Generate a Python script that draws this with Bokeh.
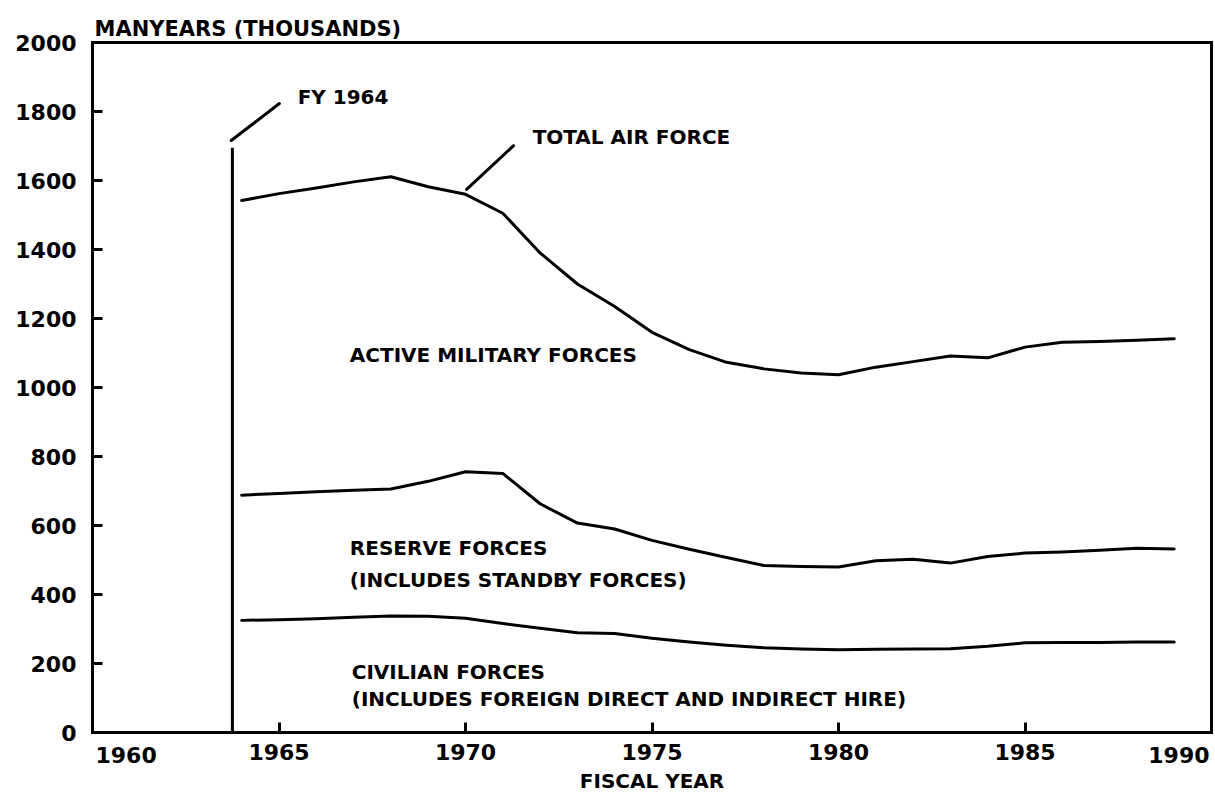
from bokeh.plotting import figure
from bokeh.models import Label, FixedTicker, Range1d, LinearAxis
from bokeh.embed import file_html
from bokeh.resources import INLINE

# ---------------- data (thousands of manyears) ----------------
years = list(range(1964, 1990))
# bottom curve: civilian forces
civilian_top = [325, 327, 330, 334, 338, 337, 331, 316, 302, 289, 287, 273, 262,
                253, 246, 242, 240, 241, 242, 243, 250, 260, 261, 261, 262, 262]
# middle curve: civilian + reserve forces
reserve_top = [688, 693, 698, 702, 706, 728, 756, 751, 663, 607, 590, 557, 531,
               507, 484, 481, 480, 498, 502, 491, 510, 520, 523, 528, 534, 532]
# top curve: total Air Force
total_top = [1542, 1562, 1578, 1596, 1611, 1582, 1560, 1505, 1390, 1300, 1235, 1160, 1110,
             1073, 1054, 1042, 1037, 1059, 1075, 1091, 1086, 1117, 1131, 1133, 1137, 1141]

fy_marker_year = [1963.75]
fy_marker_top = [1695]

x_ticks = [1960, 1965, 1970, 1975, 1980, 1985, 1990]
x_tick_labels = ["1960", "1965", "1970", "1975", "1980", "1985", "1990"]
y_ticks = [0, 200, 400, 600, 800, 1000, 1200, 1400, 1600, 1800, 2000]
y_max = 2000

FONT = "DejaVu Sans"
TICK_FS = "22px"
NOTE_FS = "20px"

# layout geometry (pixels): frame box 42..732 tall for 0..2000; the frame is extended
# below the zero line so that the year labels at the two ends can sit under the axis
H, TOP, ZERO_PX, BOTTOM_BORDER = 796, 42, 732, 6
frame_bottom = H - BOTTOM_BORDER
y_min = -y_max * (frame_bottom - ZERO_PX) / (ZERO_PX - TOP)

p = figure(width=1215, height=H,
           x_range=Range1d(x_ticks[0], x_ticks[-1]), y_range=Range1d(y_min, y_max),
           output_backend="svg", toolbar_location=None,
           min_border_left=92, min_border_right=4,
           min_border_top=TOP, min_border_bottom=BOTTOM_BORDER)

p.title.text = "MANYEARS (THOUSANDS)"
p.title.text_font = FONT
p.title.text_font_style = "bold"
p.title.text_font_size = "21px"
p.title.text_color = "black"
p.title.align = "left"
p.title.offset = 2
p.title.standoff = 4

p.xgrid.visible = False
p.ygrid.visible = False
p.outline_line_color = None
p.background_fill_color = "white"
p.border_fill_color = "white"

# bottom axis drawn at the zero line
inner_x = x_ticks[1:-1]
p.xaxis.ticker = FixedTicker(ticks=inner_x)
p.xaxis.major_label_overrides = {t: lab for t, lab in zip(x_ticks, x_tick_labels)}
p.xaxis.axis_label = "FISCAL YEAR"
p.xaxis.fixed_location = 0
p.yaxis.bounds = (0, y_max)
for ax in (p.xaxis[0], p.yaxis[0]):
    ax.axis_line_width = 3
    ax.axis_line_color = "black"
    ax.axis_line_cap = "square"
    ax.major_tick_in = 10
    ax.major_tick_out = 0
    ax.major_tick_line_width = 3
    ax.major_tick_line_color = "black"
    ax.minor_tick_line_color = None
    ax.major_label_text_font = FONT
    ax.major_label_text_font_style = "bold"
    ax.major_label_text_font_size = TICK_FS
    ax.major_label_text_color = "black"
    ax.axis_label_text_font = FONT
    ax.axis_label_text_font_style = "bold"
    ax.axis_label_text_font_size = "20px"
    ax.axis_label_text_color = "black"

p.xaxis.major_label_standoff = 11
p.xaxis.axis_label_standoff = 6
p.yaxis.ticker = FixedTicker(ticks=y_ticks)
p.yaxis.major_label_standoff = 16

# top and right sides of the box
top_axis = LinearAxis(ticker=FixedTicker(ticks=[]), axis_line_width=3, axis_line_color="black",
                      axis_line_cap="square", minor_tick_line_color=None)
right_axis = LinearAxis(ticker=FixedTicker(ticks=[]), axis_line_width=3, axis_line_color="black",
                        axis_line_cap="square", minor_tick_line_color=None, bounds=(0, y_max))
p.add_layout(top_axis, "above")
p.add_layout(right_axis, "right")

# end-of-axis year labels (as in the original, drawn inside the axis span)
p.add_layout(Label(x=x_ticks[0], y=0, text=x_tick_labels[0], x_offset=3, y_offset=-22,
                   text_align="left", text_baseline="middle", text_font=FONT,
                   text_font_style="bold", text_font_size=TICK_FS, text_color="black"))
p.add_layout(Label(x=x_ticks[-1], y=0, text=x_tick_labels[-1], x_offset=-2, y_offset=-22,
                   text_align="right", text_baseline="middle", text_font=FONT,
                   text_font_style="bold", text_font_size=TICK_FS, text_color="black"))

# curves
for series in (civilian_top, reserve_top, total_top):
    p.line(years, series, line_width=3, line_color="black", line_join="round", line_cap="round")

# FY 1964 marker
p.segment(x0=fy_marker_year, y0=[0], x1=fy_marker_year, y1=fy_marker_top,
          line_width=3, line_color="black")

# leader lines
p.line([1963.72, 1965.01], [1716, 1823], line_width=3, line_color="black", line_cap="round")
p.line([1970.03, 1971.29], [1574, 1701], line_width=3, line_color="black", line_cap="round")

def note(x, y, txt):
    p.add_layout(Label(x=x, y=y, text=txt, text_align="left", text_baseline="middle",
                       text_font=FONT, text_font_style="bold", text_font_size=NOTE_FS,
                       text_color="black"))

note(1965.5, 1841, "FY 1964")
note(1971.8, 1725, "TOTAL AIR FORCE")
note(1966.9, 1093, "ACTIVE MILITARY FORCES")
note(1966.9, 536, "RESERVE FORCES")
note(1966.9, 441, "(INCLUDES STANDBY FORCES)")
note(1966.95, 174, "CIVILIAN FORCES")
note(1966.95, 98, "(INCLUDES FOREIGN DIRECT AND INDIRECT HIRE)")

open("out.html", "w").write(file_html(p, INLINE))
